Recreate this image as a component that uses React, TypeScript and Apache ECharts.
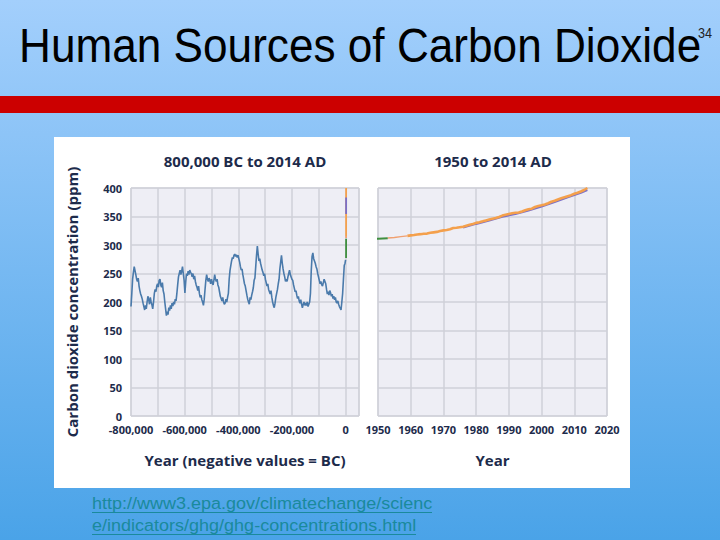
import React, { useEffect, useRef } from 'react';
import * as echarts from 'echarts';

// Ice-core record, thousands of years (negative = BC), ppm
const iceAgeKyr = [
  -800, -797, -794, -791, -788, -785, -782, -779, -776, -773, -770, -767, -764, -761, -758, -755, -752, -749, -746, -743,
  -740, -737, -734, -731, -728, -725, -722, -719, -716, -713, -710, -707, -704, -701, -698, -695, -692, -689, -686, -683,
  -680, -677, -674, -671, -668, -665, -662, -659, -656, -653, -650, -647, -644, -641, -638, -635, -632, -629, -626, -623,
  -620, -617, -614, -611, -608, -605, -602, -599, -596, -593, -590, -587, -584, -581, -578, -575, -572, -569, -566, -563,
  -560, -557, -554, -551, -548, -545, -542, -539, -536, -533, -530, -527, -524, -521, -518, -515, -512, -509, -506, -503,
  -500, -497, -494, -491, -488, -485, -482, -479, -476, -473, -470, -467, -464, -461, -458, -455, -452, -449, -446, -443,
  -440, -437, -434, -431, -428, -425, -422, -419, -416, -413, -410, -407, -404, -401, -398, -395, -392, -389, -386, -383,
  -380, -377, -374, -371, -368, -365, -362, -359, -356, -353, -350, -347, -344, -341, -338, -335, -332, -329, -326, -323,
  -320, -317, -314, -311, -308, -305, -302, -299, -296, -293, -290, -287, -284, -281, -278, -275, -272, -269, -266, -263,
  -260, -257, -254, -251, -248, -245, -242, -239, -236, -233, -230, -227, -224, -221, -218, -215, -212, -209, -206, -203,
  -200, -197, -194, -191, -188, -185, -182, -179, -176, -173, -170, -167, -164, -161, -158, -155, -152, -149, -146, -143,
  -140, -137, -134, -131, -128, -125, -122, -119, -116, -113, -110, -107, -104, -101, -98, -95, -92, -89, -86, -83,
  -80, -77, -74, -71, -68, -65, -62, -59, -56, -53, -50, -47, -44, -41, -38, -35, -32, -29, -26, -23,
  -20, -17, -14, -11, -8, -5, -2, 0,
];
const iceCO2 = [
  192, 215, 240, 252, 262, 255, 248, 240, 236, 242, 228, 220, 214, 210, 205, 198, 192, 186, 194, 188,
  200, 210, 204, 196, 208, 200, 195, 188, 200, 215, 222, 218, 228, 232, 226, 238, 240, 230, 226, 234,
  220, 214, 200, 188, 176, 183, 178, 190, 185, 194, 188, 198, 193, 200, 196, 205, 202, 215, 230, 244,
  250, 256, 248, 254, 262, 250, 238, 216, 235, 250, 246, 254, 248, 256, 252, 250, 244, 250, 240, 246,
  236, 230, 226, 220, 228, 215, 208, 212, 204, 200, 194, 205, 222, 238, 248, 240, 236, 242, 238, 232,
  240, 234, 230, 238, 248, 240, 236, 240, 230, 226, 218, 210, 206, 202, 208, 200, 196, 198, 205, 200,
  208, 215, 240, 255, 264, 272, 278, 276, 282, 284, 280, 283, 278, 282, 276, 270, 262, 256, 258, 248,
  240, 232, 228, 220, 212, 205, 200, 196, 208, 204, 212, 218, 225, 238, 242, 262, 282, 298, 284, 272,
  276, 268, 262, 256, 252, 246, 250, 240, 234, 228, 232, 222, 218, 214, 220, 208, 200, 194, 190, 198,
  208, 215, 222, 232, 240, 258, 270, 282, 268, 258, 250, 244, 236, 240, 236, 244, 250, 256, 248, 244,
  240, 238, 230, 224, 218, 220, 212, 206, 210, 202, 198, 204, 196, 190, 196, 200, 194, 198, 194, 200,
  192, 196, 200, 215, 255, 280, 286, 276, 272, 268, 262, 258, 250, 244, 238, 232, 236, 230, 228, 234,
  240, 236, 232, 222, 214, 218, 212, 220, 216, 210, 214, 206, 210, 204, 208, 200, 198, 202, 196, 192,
  189, 186, 200, 215, 240, 264, 268, 274,
];

// Modern record (years AD, ppm)
const lawDomeYears = [1750, 1800, 1850, 1900, 1930, 1950, 1953];
const lawDomeCO2 = [277, 282, 285, 296, 306, 311, 312];

const bridgeYears = [1953, 1955, 1957, 1959];
const bridgeCO2 = [312.3, 313.2, 314.6, 316.0];

const maunaLoaYears = [
  1959, 1960, 1961, 1962, 1963, 1964, 1965, 1966, 1967, 1968, 1969, 1970, 1971, 1972, 1973, 1974, 1975, 1976, 1977, 1978,
  1979, 1980, 1981, 1982, 1983, 1984, 1985, 1986, 1987, 1988, 1989, 1990, 1991, 1992, 1993, 1994, 1995, 1996, 1997, 1998,
  1999, 2000, 2001, 2002, 2003, 2004, 2005, 2006, 2007, 2008, 2009, 2010, 2011, 2012, 2013, 2014,
];
const maunaLoaCO2 = [
  316.0, 316.9, 317.6, 318.5, 319.0, 319.6, 320.0, 321.4, 322.2, 323.0, 324.6, 325.7, 326.3, 327.5, 329.7, 330.2, 331.1, 332.0, 333.8, 335.4,
  336.8, 338.8, 340.1, 341.5, 343.1, 344.7, 346.1, 347.4, 349.2, 351.6, 353.1, 354.4, 355.6, 356.5, 357.1, 358.8, 360.8, 362.6, 363.7, 366.7,
  368.4, 369.6, 371.1, 373.3, 375.8, 377.5, 379.8, 381.9, 383.8, 385.6, 387.4, 389.9, 391.7, 393.9, 396.5, 400.0,
];

const otherYears = [1976, 1980, 1984, 1988, 1992, 1996, 2000, 2004, 2008, 2012, 2014];
const otherCO2 = [330.5, 337.0, 343.0, 349.5, 354.5, 360.5, 367.5, 375.5, 383.5, 391.5, 396.5];

const yTicks = [0, 50, 100, 150, 200, 250, 300, 350, 400];

const NAVY = '#1d2b4b';
const FONT = '"Open Sans", "Noto Sans", sans-serif';
const BLUE = '#4a7aab';
const GREEN = '#3f8f3f';
const ORANGE = '#f4a04c';
const SALMON = '#f0a070';
const PURPLE = '#7a6fc8';
const LINK = '#1a8a9c';

export default function App() {
  const ref = useRef<HTMLDivElement>(null);

  useEffect(() => {
    document.body.style.margin = '0';
    const chart = echarts.init(ref.current!, null, { renderer: 'svg' });

    const iceData = iceAgeKyr.map((k, i) => [k * 1000, iceCO2[i]]);
    const lawData = lawDomeYears.map((y, i) => [y, lawDomeCO2[i]]);
    const bridgeData = bridgeYears.map((y, i) => [y, bridgeCO2[i]]);
    const mlData = maunaLoaYears.map((y, i) => [y, maunaLoaCO2[i]]);
    const otherData = otherYears.map((y, i) => [y, otherCO2[i]]);
    const otherSpike = otherData.filter((d) => d[1] >= 350 && d[1] <= 384);

    const axisLabel = { fontFamily: FONT, fontWeight: 'bold', fontSize: 11, color: NAVY };
    const nameStyle = { fontFamily: FONT, fontWeight: 'bold', fontSize: 15, color: NAVY };
    const split = { show: true, lineStyle: { color: '#cfd0d9', width: 1.5 } };

    const lineSeries = (data: number[][], color: string, width: number, axis: number, z: number) => ({
      type: 'line',
      xAxisIndex: axis,
      yAxisIndex: axis,
      data,
      showSymbol: false,
      symbol: 'none',
      lineStyle: { color, width },
      z,
    });

    const option: any = {
      animation: false,
      grid: [
        { left: 131, top: 188, width: 228, height: 228, show: true, backgroundColor: '#eeeef5', borderColor: '#cfd0d9', borderWidth: 1 },
        { left: 378, top: 188, width: 229, height: 228, show: true, backgroundColor: '#eeeef5', borderColor: '#cfd0d9', borderWidth: 1 },
      ],
      xAxis: [
        {
          type: 'value', gridIndex: 0, min: -800000, max: 50000, interval: 100000,
          axisLine: { show: false }, axisTick: { show: false }, splitLine: split,
          axisLabel: {
            ...axisLabel, margin: 8,
            formatter: (v: number) => (v <= 0 && v % 200000 === 0 ? v.toLocaleString('en-US') : ''),
          },
          name: 'Year (negative values = BC)', nameLocation: 'middle', nameGap: 36, nameTextStyle: nameStyle,
        },
        {
          type: 'value', gridIndex: 1, min: 1950, max: 2020, interval: 10,
          axisLine: { show: false }, axisTick: { show: false }, splitLine: split,
          axisLabel: { ...axisLabel, margin: 8, formatter: (v: number) => String(v) },
          name: 'Year', nameLocation: 'middle', nameGap: 36, nameTextStyle: nameStyle,
        },
      ],
      yAxis: [
        {
          type: 'value', gridIndex: 0, min: yTicks[0], max: yTicks[yTicks.length - 1], interval: 50,
          axisLine: { show: false }, axisTick: { show: false }, splitLine: split,
          axisLabel: { ...axisLabel, margin: 9 },
          name: 'Carbon dioxide concentration (ppm)', nameLocation: 'middle', nameGap: 52, nameRotate: 90,
          nameTextStyle: nameStyle,
        },
        {
          type: 'value', gridIndex: 1, min: yTicks[0], max: yTicks[yTicks.length - 1], interval: 50,
          axisLine: { show: false }, axisTick: { show: false }, splitLine: split,
          axisLabel: { show: false },
        },
      ],
      series: [
        lineSeries(iceData, BLUE, 1.6, 0, 2),
        lineSeries(lawData, GREEN, 1.8, 0, 3),
        lineSeries(bridgeData, SALMON, 1.8, 0, 3),
        lineSeries(mlData, ORANGE, 1.8, 0, 4),
        lineSeries(otherSpike, PURPLE, 1.8, 0, 5),
        lineSeries(lawData, GREEN, 2, 1, 3),
        lineSeries(bridgeData, SALMON, 1.4, 1, 3),
        lineSeries(otherData, PURPLE, 2, 1, 4),
        lineSeries(mlData, ORANGE, 2.6, 1, 5),
      ],
      graphic: [
        {
          type: 'rect', z: -100, shape: { x: 0, y: 0, width: 720, height: 540 },
          style: {
            fill: new echarts.graphic.LinearGradient(0, 0, 0, 1, [
              { offset: 0, color: '#a3cffc' },
              { offset: 1, color: '#4aa3e8' },
            ]),
          },
        },
        { type: 'rect', z: -99, shape: { x: 0, y: 96, width: 720, height: 17 }, style: { fill: '#cc0000' } },
        { type: 'rect', z: -99, shape: { x: 54, y: 137, width: 576, height: 351 }, style: { fill: '#ffffff' } },
        {
          type: 'text', z: 100, x: 19, y: 45, scaleX: 0.92,
          style: { text: 'Human Sources of Carbon Dioxide', x: 0, y: 0, fill: '#000', font: '48px "Liberation Sans", Arial, sans-serif', align: 'left', verticalAlign: 'middle' },
        },
        {
          type: 'text', z: 100, x: 698, y: 33, scaleX: 0.9,
          style: { text: '34', x: 0, y: 0, fill: '#222', font: '14px "Liberation Sans", Arial, sans-serif', align: 'left', verticalAlign: 'middle' },
        },
        {
          type: 'text', z: 100, x: 245, y: 161,
          style: { text: '800,000 BC to 2014 AD', fill: NAVY, font: `bold 15px ${FONT}`, align: 'center', verticalAlign: 'middle' },
        },
        {
          type: 'text', z: 100, x: 493, y: 161,
          style: { text: '1950 to 2014 AD', fill: NAVY, font: `bold 15px ${FONT}`, align: 'center', verticalAlign: 'middle' },
        },
        {
          type: 'text', z: 100, x: 92, y: 503, scaleX: 1.06,
          style: { text: 'http://www3.epa.gov/climatechange/scienc', x: 0, y: 0, fill: LINK, font: '17px "Liberation Sans", Arial, sans-serif', align: 'left', verticalAlign: 'middle' },
        },
        {
          type: 'text', z: 100, x: 92, y: 525, scaleX: 1.06,
          style: { text: 'e/indicators/ghg/ghg-concentrations.html', x: 0, y: 0, fill: LINK, font: '17px "Liberation Sans", Arial, sans-serif', align: 'left', verticalAlign: 'middle' },
        },
        { type: 'line', z: 100, shape: { x1: 92, y1: 512.5, x2: 432, y2: 512.5 }, style: { stroke: LINK, lineWidth: 1.2 } },
        { type: 'line', z: 100, shape: { x1: 92, y1: 534.5, x2: 416, y2: 534.5 }, style: { stroke: LINK, lineWidth: 1.2 } },
      ],
    };

    chart.setOption(option);
    return () => chart.dispose();
  }, []);

  return <div ref={ref} style={{ position: 'absolute', left: 0, top: 0, width: 720, height: 540 }} />;
}
